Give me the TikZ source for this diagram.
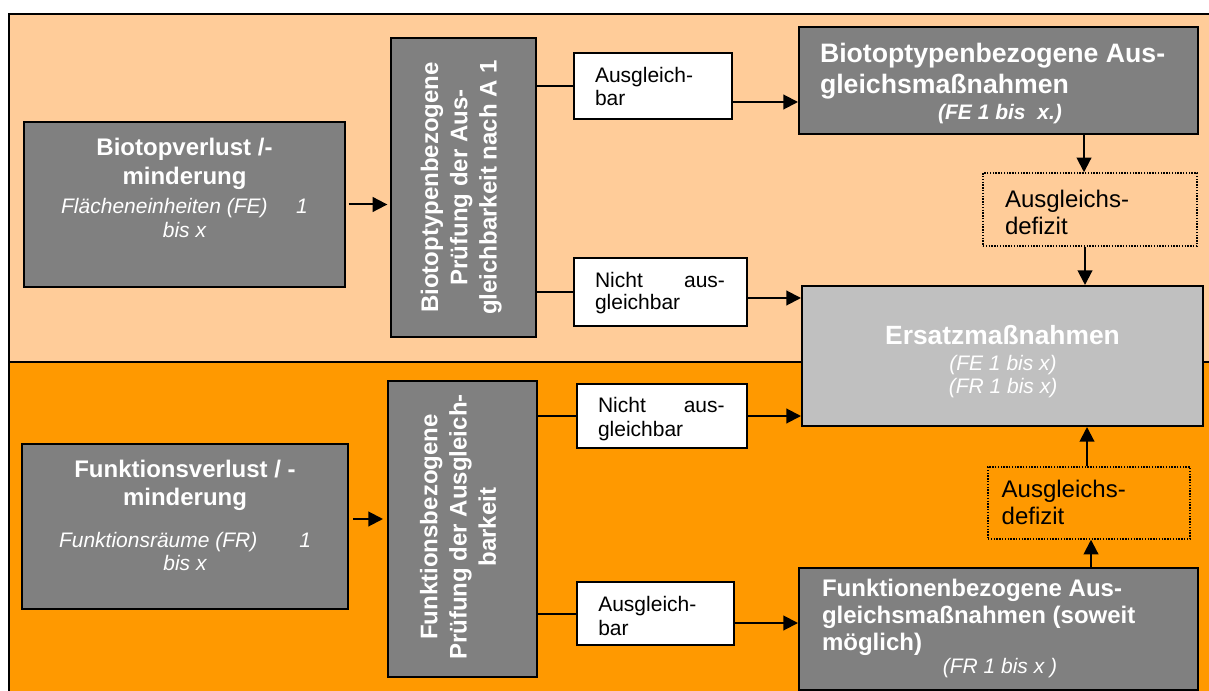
\documentclass[tikz,border=0pt]{standalone}
\usepackage{fontspec}
\setmainfont{Liberation Sans}
\usetikzlibrary{arrows.meta,calc}
\definecolor{peach}{HTML}{FFCC99}
\definecolor{orng}{HTML}{FF9900}
\definecolor{dgray}{HTML}{808080}
\definecolor{lgray}{HTML}{C0C0C0}
\newcommand\fsfont[2]{\fontsize{#1}{#2}\selectfont}
\begin{document}
\begin{tikzpicture}[x=0.75pt,y=-0.75pt,
  box/.style={draw=black, line width=1.5pt, inner sep=0pt},
  gbox/.style={box, fill=dgray},
  lbox/.style={box, fill=lgray},
  wbox/.style={box, fill=white},
  dbox/.style={draw=black, line width=1.1pt, densely dotted, inner sep=0pt},
  txt/.style={inner sep=0pt, outer sep=0pt},
  wtxt/.style={txt, text=white},
  ln/.style={draw=black, line width=1.5pt},
  arr/.style={ln, -{Triangle[length=11pt,width=11pt]}},
]
\useasboundingbox (0,0) rectangle (1209,691);
\clip (0,0) rectangle (1209,691);
\fill[white] (0,0) rectangle (1209,691);
% panels
\filldraw[fill=peach, draw=black, line width=1.2pt] (9,14) rectangle (1216,362);
\filldraw[fill=orng, draw=black, line width=1.2pt] (9,362) rectangle (1216,698);

% boxes
\node[gbox, minimum width=240.75pt, minimum height=123.75pt] (b1) at (184.5,204.5) {};
\node[gbox, minimum width=108.75pt, minimum height=224.25pt] (v1) at (463.5,187.5) {};
\node[wbox, minimum width=118.5pt, minimum height=49.5pt] (a1) at (653,86) {};
\node[wbox, minimum width=129.75pt, minimum height=51pt] (n1) at (660.5,292) {};
\node[gbox, minimum width=299.25pt, minimum height=80.25pt] (b5) at (998.5,80.5) {};
\node[dbox, minimum width=160.5pt, minimum height=54.75pt] (d1) at (1090,209.5) {};
\node[lbox, minimum width=300.75pt, minimum height=105pt] (e7) at (1002.5,356) {};
\node[gbox, minimum width=244.5pt, minimum height=123.75pt] (b8) at (185,526.5) {};
\node[gbox, minimum width=111.75pt, minimum height=222pt] (v2) at (462.5,529) {};
\node[wbox, minimum width=127.5pt, minimum height=48pt] (n2) at (662,416) {};
\node[wbox, minimum width=117.75pt, minimum height=47.25pt] (a2) at (655.5,613.5) {};
\node[gbox, minimum width=299.25pt, minimum height=91.5pt] (f12) at (998.5,629) {};
\node[dbox, minimum width=151.5pt, minimum height=54pt] (d2) at (1089,503) {};

% texts
\node[wtxt, anchor=north, align=center, font=\fsfont{18pt}{21.75pt}\bfseries] (t1) at (184.5,138) {Biotopverlust /-\\minderung};
\node[wtxt, anchor=north, align=center, font=\fsfont{15.75pt}{18pt}\itshape] (s1) at (184.5,198) {\makebox[185pt]{Flächeneinheiten (FE)\hfill 1}\\bis x};
\node[wtxt, anchor=north, align=center, font=\fsfont{18pt}{21.2pt}\bfseries] (t8) at (185,460) {Funktionsverlust / -\\minderung};
\node[wtxt, anchor=north, align=center, font=\fsfont{15.75pt}{17.5pt}\itshape] (s8) at (185,532) {\makebox[189pt]{Funktionsräume (FR)\hfill 1}\\bis x};

\node[wtxt, anchor=north west, align=left, font=\fsfont{20pt}{23.25pt}\bfseries] (t5) at (820,43) {Biotoptypenbezogene Aus-\\gleichsmaßnahmen};
\node[wtxt, anchor=north, font=\fsfont{15.75pt}{17.5pt}\bfseries\itshape] (s5) at (1000,104) {(FE 1 bis\ \ x.)};

\node[wtxt, anchor=north, font=\fsfont{19.8pt}{23pt}\bfseries] (t7) at (1002.5,325) {Ersatzmaßnahmen};
\node[wtxt, anchor=north, align=center, font=\fsfont{15.75pt}{17.25pt}\itshape] (s7) at (1003,355) {(FE 1 bis x)\\(FR 1 bis x)};

\node[wtxt, anchor=north west, align=left, font=\fsfont{18pt}{20.25pt}\bfseries] (t12) at (822,579) {Funktionenbezogene Aus-\\gleichsmaßnahmen (soweit\\möglich)};
\node[wtxt, anchor=north, font=\fsfont{15.75pt}{17.5pt}\itshape] (s12) at (1000,658) {(FR 1 bis x )};

\node[wtxt, rotate=90, align=center, font=\fsfont{18pt}{22pt}\bfseries] (tv1) at (461.2,187.5) {Biotoptypenbezogene\\Prüfung der Aus-\\gleichbarkeit nach A 1};
\node[wtxt, rotate=90, align=center, font=\fsfont{18pt}{22pt}\bfseries] (tv2) at (458,527) {Funktionsbezogene\\Prüfung der Ausgleich-\\barkeit};

\node[txt, anchor=north west, align=left, font=\fsfont{15.75pt}{17.25pt}] (ta1) at (595,67) {Ausgleich-\\bar};
\node[txt, anchor=north west, align=left, font=\fsfont{15.75pt}{17pt}] (tn1) at (595,272) {\makebox[97.5pt]{Nicht\hfill aus-}\\gleichbar};
\node[txt, anchor=north west, align=left, font=\fsfont{15.75pt}{18.2pt}] (tn2) at (598,397) {\makebox[95pt]{Nicht\hfill aus-}\\gleichbar};
\node[txt, anchor=north west, align=left, font=\fsfont{15.75pt}{18.2pt}] (ta2) at (598.3,596) {Ausgleich-\\bar};

\node[txt, anchor=north west, align=left, font=\fsfont{18pt}{20.7pt}] (td1) at (1005,190) {Ausgleichs-\\defizit};
\node[txt, anchor=north west, align=left, font=\fsfont{18pt}{20.7pt}] (td2) at (1001.7,480) {Ausgleichs-\\defizit};

% connectors
\draw[arr, shorten <=2pt, shorten >=2pt] (b1.east) -- (b1.east -| v1.west);
\draw[arr, shorten <=3pt, shorten >=3pt] ($(b8.east)+(0,-7.5)$) coordinate (q1) -- (q1 -| v2.west);

\draw[ln] (v1.east |- a1.west) -- (a1.west);
\draw[ln] (v1.east |- n1.west) -- (n1.west);
\draw[ln] (v2.east |- n2.west) -- (n2.west);
\draw[ln] (v2.east |- a2.west) -- (a2.west);

\draw[arr] ($(a1.east)+(0,16)$) coordinate (p1) -- (p1 -| b5.west);
\draw[arr] ($(n1.east)+(0,6)$) coordinate (p2) -- (p2 -| e7.west);
\draw[arr] (n2.east) -- (n2.east -| e7.west);
\draw[arr] ($(a2.east)+(0,9.5)$) coordinate (p4) -- (p4 -| f12.west);

\coordinate (c1) at ($(d1.north)+(-6,0)$);
\draw[arr] (c1 |- b5.south) -- (c1);
\coordinate (c2) at ($(d1.south)+(-5,0)$);
\draw[arr] (c2) -- (c2 |- e7.north);
\coordinate (c3) at ($(d2.south)+(2,0)$);
\draw[arr] (c3 |- f12.north) -- (c3);
\coordinate (c4) at ($(d2.north)+(-2,0)$);
\draw[arr] (c4) -- (c4 |- e7.south);
\end{tikzpicture}
\end{document}
